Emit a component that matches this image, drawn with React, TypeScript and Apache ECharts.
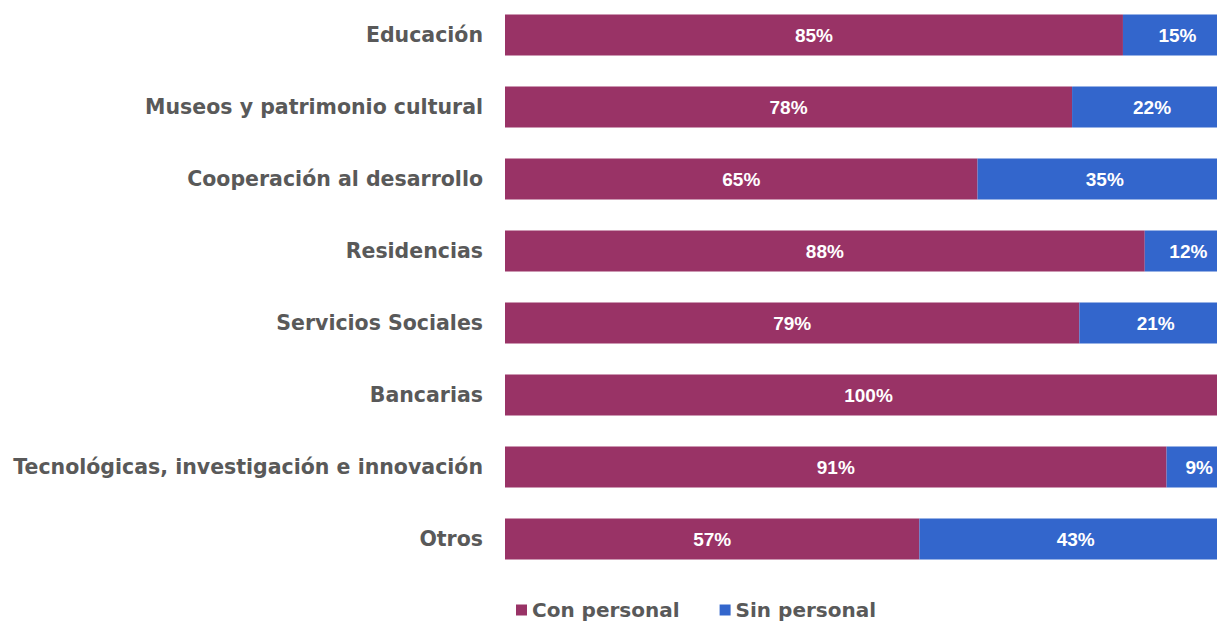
import React, { useEffect, useRef } from "react";
import * as echarts from "echarts";

const categories = [
  "Educación",
  "Museos y patrimonio cultural",
  "Cooperación al desarrollo",
  "Residencias",
  "Servicios Sociales",
  "Bancarias",
  "Tecnológicas, investigación e innovación",
  "Otros",
];
const conPersonal = [85, 78, 65, 88, 79, 100, 91, 57];
const sinPersonal = [15, 22, 35, 12, 21, 0, 9, 43];
const seriesNames = ["Con personal", "Sin personal"];

export default function App() {
  const ref = useRef<HTMLDivElement>(null);
  useEffect(() => {
    if (!ref.current) return;
    const chart = echarts.init(ref.current, null, { renderer: "svg" });
    const label = {
      show: true,
      position: "inside",
      color: "#ffffff",
      fontWeight: "bold",
      fontFamily: "Liberation Sans, Arial, sans-serif",
      fontSize: 19,
      formatter: (p: any) => (p.value ? p.value + "%" : ""),
    };
    chart.setOption({
      animation: false,
      backgroundColor: "#ffffff",
      grid: {
        left: 505,
        right: -15,
        top: -1,
        bottom: 48,
        containLabel: false,
        outerBoundsMode: "none",
      },
      xAxis: {
        type: "value",
        min: 0,
        max: 100,
        show: false,
      },
      yAxis: {
        type: "category",
        inverse: true,
        data: categories,
        axisLine: { show: false },
        axisTick: { show: false },
        axisLabel: {
          margin: 22,
          color: "#595959",
          fontWeight: "bold",
          fontFamily: "DejaVu Sans, sans-serif",
          fontSize: 20.5,
        },
      },
      legend: {
        top: 595,
        left: 511,
        icon: "rect",
        itemWidth: 11,
        itemHeight: 11,
        itemGap: 40,
        textStyle: {
          color: "#595959",
          fontWeight: "bold",
          fontFamily: "DejaVu Sans, sans-serif",
          fontSize: 20,
        },
        data: seriesNames,
      },
      series: [
        {
          name: seriesNames[0],
          type: "bar",
          stack: "total",
          barWidth: 41,
          data: conPersonal,
          itemStyle: { color: "#993366" },
          label,
        },
        {
          name: seriesNames[1],
          type: "bar",
          stack: "total",
          barWidth: 41,
          data: sinPersonal,
          itemStyle: { color: "#3366CC" },
          label,
        },
      ],
    });
    return () => chart.dispose();
  }, []);
  return (
    <div style={{ position: "fixed", left: 0, top: 0, width: 1217, height: 623 }}>
      <div ref={ref} style={{ width: 1217, height: 623 }} />
    </div>
  );
}
